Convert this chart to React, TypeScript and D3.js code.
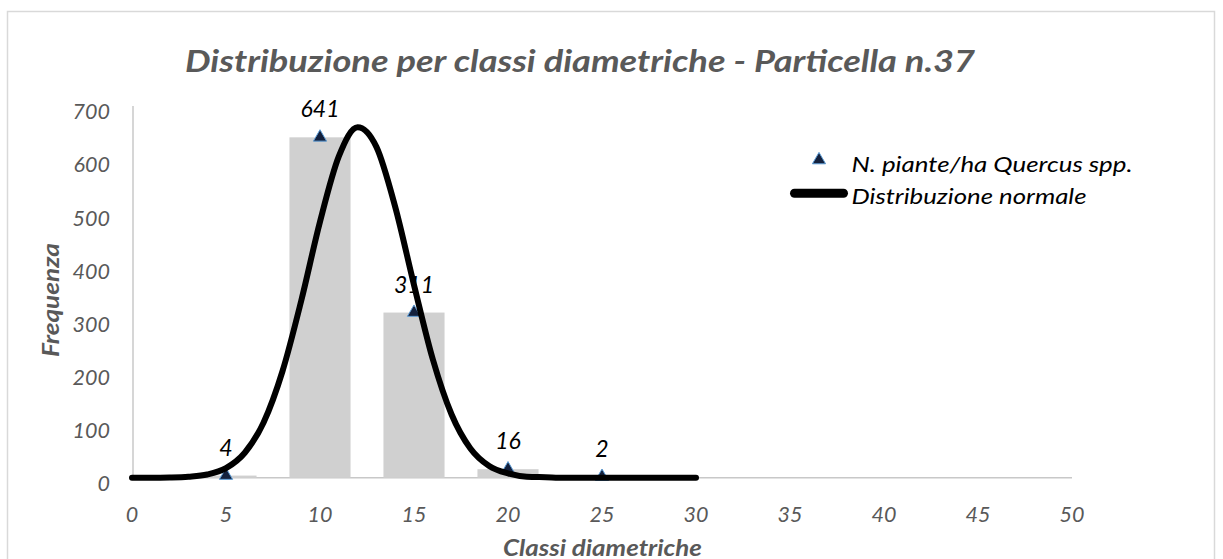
import React from "react";
import * as d3 from "d3";

const title = "Distribuzione per classi diametriche - Particella n.37";
const xTitle = "Classi diametriche";
const yTitle = "Frequenza";
const xTicks = [0, 5, 10, 15, 20, 25, 30, 35, 40, 45, 50];
const yTicks = [0, 100, 200, 300, 400, 500, 600, 700];
const classes = [5, 10, 15, 20, 25];
const counts = [4, 641, 311, 16, 2];
const normalX = [0, 1, 2, 3, 4, 5, 6, 7, 8, 9, 10, 11, 12, 13, 14, 15, 16, 17, 18, 19, 20, 21, 22, 23, 24, 25, 26, 27, 28, 29, 30];
const normalY = [0, 0, 0.5, 2, 6, 18, 47, 104, 200, 333, 482, 605, 660, 623, 510, 363, 223, 119, 55, 22, 8, 2, 1, 0, 0, 0, 0, 0, 0, 0, 0];
const legendLabels = ["N. piante/ha Quercus spp.", "Distribuzione normale"];

const FONT = "Lato, 'Open Sans', sans-serif";
const GRAY = "#595959";

export default function App() {
  const x = d3.scaleLinear().domain([0, 50]).range([132, 1072]);
  const y = d3.scaleLinear().domain([0, 700]).range([477.7, 106]);
  const barW = (x(5) - x(0)) * 0.65;
  const tri = d3.symbol().type(d3.symbolTriangle).size(75)() as string;
  const line = d3
    .line<number>()
    .x((_, i) => x(normalX[i]))
    .y((d) => y(d))
    .curve(d3.curveMonotoneX);

  return (
    <svg
      width={1223}
      height={559}
      style={{ position: "absolute", left: 0, top: 0, display: "block" }}
      fontFamily={FONT}
    >
      <rect x={0} y={0} width={1223} height={559} fill="#fff" />
      <rect x={7.5} y={11.5} width={1207} height={620} fill="none" stroke="#d9d9d9" strokeWidth={1.5} />

      <text
        x={185}
        y={71.5}
        textLength={790}
        lengthAdjust="spacingAndGlyphs"
        fontSize={30}
        fontWeight={700}
        fontStyle="italic"
        fill={GRAY}
      >
        {title}
      </text>

      {/* axes */}
      <line x1={x(0) + 1} x2={x(0) + 1} y1={y(700)} y2={y(0)} stroke="#c8c8c8" strokeWidth={1.5} />
      <line x1={x(0)} x2={x(50)} y1={y(0)} y2={y(0)} stroke="#c8c8c8" strokeWidth={1.5} />

      {yTicks.map((t) => (
        <text key={t} x={110} y={y(t) + 13.3} textAnchor="end" fontSize={21.5} fontStyle="italic" fill={GRAY}>
          {t}
        </text>
      ))}
      {xTicks.map((t) => (
        <text key={t} x={x(t)} y={521.7} textAnchor="middle" fontSize={21.5} fontStyle="italic" fill={GRAY}>
          {t}
        </text>
      ))}

      <text
        transform={`translate(59,300) rotate(-90)`}
        x={-57}
        y={0}
        textLength={114}
        lengthAdjust="spacingAndGlyphs"
        fontSize={22}
        fontWeight={700}
        fontStyle="italic"
        fill={GRAY}
      >
        {yTitle}
      </text>
      <text
        x={503}
        y={555.5}
        textLength={199}
        lengthAdjust="spacingAndGlyphs"
        fontSize={22}
        fontWeight={700}
        fontStyle="italic"
        fill={GRAY}
      >
        {xTitle}
      </text>

      {/* bars */}
      {classes.map((c, i) => (
        <rect
          key={c}
          x={x(c) - barW / 2}
          y={y(counts[i])}
          width={barW}
          height={y(0) - y(counts[i])}
          fill="#d0d0d0"
        />
      ))}

      {/* markers */}
      {classes.map((c, i) => (
        <path
          key={c}
          d={tri}
          transform={`translate(${x(c)},${y(counts[i])})`}
          fill="#14213d"
          stroke="#5b9bd5"
          strokeWidth={1}
        />
      ))}

      {/* data labels */}
      {classes.map((c, i) => (
        <text key={c} x={x(c)} y={y(counts[i]) - 20} textAnchor="middle" fontSize={23} fontStyle="italic" fill="#000">
          {counts[i]}
        </text>
      ))}

      {/* normal curve */}
      <path
        d={line(normalY) as string}
        fill="none"
        stroke="#000"
        strokeWidth={6}
        strokeLinecap="round"
        strokeLinejoin="round"
      />

      {/* legend */}
      <path d={tri} transform="translate(819,160)" fill="#14213d" stroke="#5b9bd5" strokeWidth={1} />
      <text
        x={851.5}
        y={171.7}
        textLength={281}
        lengthAdjust="spacingAndGlyphs"
        fontSize={21}
        fontStyle="italic"
        fill="#000"
      >
        {legendLabels[0]}
      </text>
      <line x1={794.5} x2={843.5} y1={193.3} y2={193.3} stroke="#000" strokeWidth={9} strokeLinecap="round" />
      <text
        x={851.5}
        y={204}
        textLength={235}
        lengthAdjust="spacingAndGlyphs"
        fontSize={21}
        fontStyle="italic"
        fill="#000"
      >
        {legendLabels[1]}
      </text>
    </svg>
  );
}
